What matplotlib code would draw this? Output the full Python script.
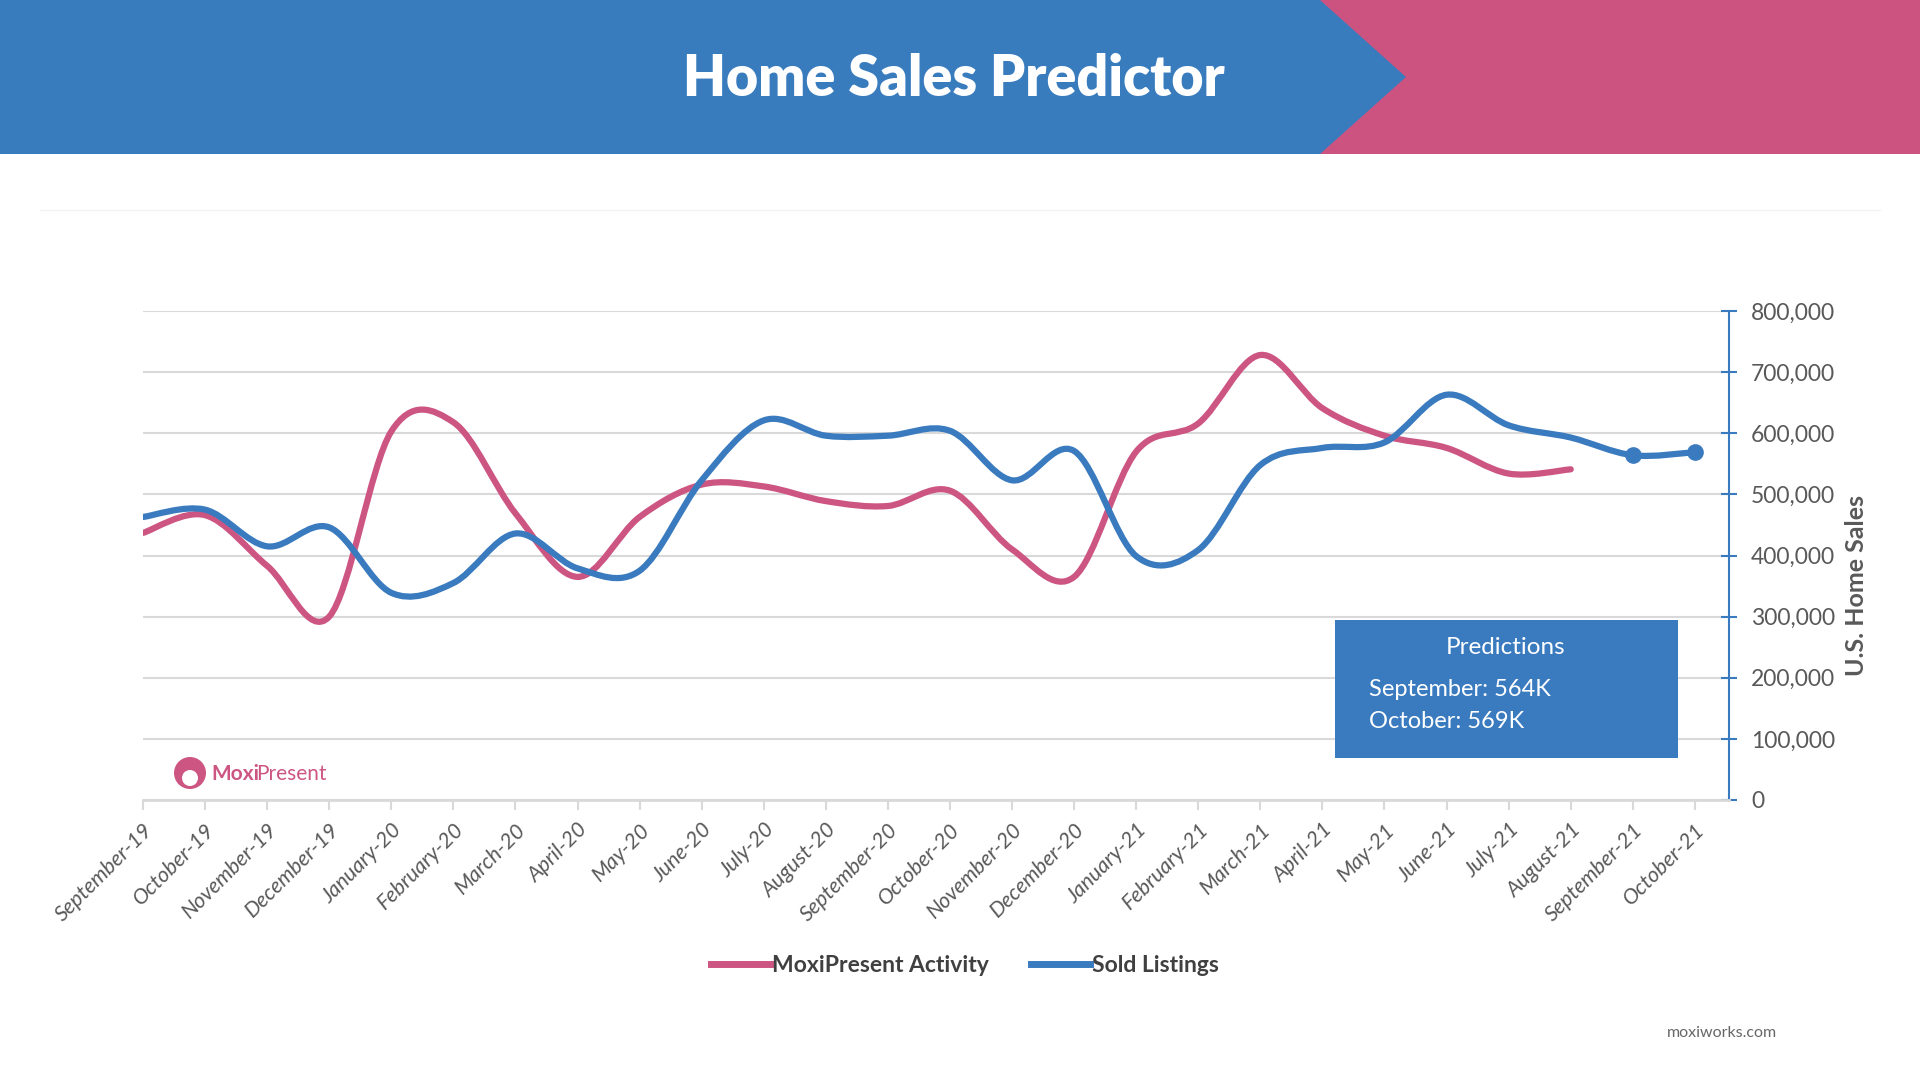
import numpy as np
import matplotlib
matplotlib.use("Agg")
import matplotlib.pyplot as plt
from matplotlib.path import Path
from matplotlib.patches import PathPatch, Polygon, Rectangle, Circle
from matplotlib.lines import Line2D
from matplotlib.ticker import FuncFormatter

plt.rcParams["font.family"] = ["Lato", "DejaVu Sans"]

# months on the x axis
months = ["September-19", "October-19", "November-19", "December-19",
          "January-20", "February-20", "March-20", "April-20", "May-20",
          "June-20", "July-20", "August-20", "September-20", "October-20",
          "November-20", "December-20", "January-21", "February-21",
          "March-21", "April-21", "May-21", "June-21", "July-21",
          "August-21", "September-21", "October-21"]

# MoxiPresent activity (ends August-21)
activity = [437000, 466000, 383000, 300000, 603000, 618000, 469000, 365000,
            463000, 516000, 513000, 489000, 481000, 506000, 410000, 365000,
            570000, 616000, 728000, 641000, 596000, 576000, 534000, 541000]

# sold listings (last two months are predictions)
sold = [463000, 475000, 415000, 446000, 339000, 355000, 436000, 379000,
        375000, 523000, 621000, 596000, 596000, 604000, 523000, 571000,
        399000, 409000, 548000, 576000, 585000, 663000, 613000, 593000,
        564000, 569000]

y_ticks = [0, 100000, 200000, 300000, 400000, 500000, 600000, 700000, 800000]

BLUE = "#3A7BBF"
PINK = "#CD5582"
GRID = "#D9D9D9"
TEXT = "#595959"


def smooth_path(xs, ys):
    # bezier path through the points, like a spreadsheet "smoothed line"
    pts = np.column_stack([xs, ys]).astype(float)
    n = len(pts)
    verts = [pts[0]]
    codes = [Path.MOVETO]
    for i in range(n - 1):
        p0 = pts[i - 1] if i > 0 else pts[i]
        p1 = pts[i]
        p2 = pts[i + 1]
        p3 = pts[i + 2] if i + 2 < n else pts[i + 1]
        c1 = p1 + (p2 - p0) / 6.0
        c2 = p2 - (p3 - p1) / 6.0
        verts += [c1, c2, p2]
        codes += [Path.CURVE4, Path.CURVE4, Path.CURVE4]
    return Path(verts, codes)


fig = plt.figure(figsize=(19.2, 10.8), dpi=100)

# header band
hdr = fig.add_axes([0, 1 - 154 / 1080, 1, 154 / 1080])
hdr.set_xlim(0, 1920)
hdr.set_ylim(154, 0)
hdr.axis("off")
hdr.add_patch(Rectangle((0, 0), 1920, 154, color="#CC5380", lw=0))
hdr.add_patch(Polygon([(0, 0), (1320, 0), (1406, 77), (1320, 154), (0, 154)],
                      closed=True, color="#397CBE", lw=0))
hdr.text(954, 79, "Home Sales Predictor", color="white", fontsize=40,
         fontweight="heavy", ha="center", va="center")

# faint separator line
fig.add_artist(Line2D([40 / 1920, 1880 / 1920], [1 - 210 / 1080, 1 - 210 / 1080],
                      color="#F3F3F3", lw=1))

ax = fig.add_axes([143 / 1920, 1 - 800 / 1080, (1729 - 143) / 1920, (800 - 311) / 1080])
x = np.arange(len(months))

ax.add_patch(PathPatch(smooth_path(x[:len(activity)], activity), fill=False,
                       edgecolor=PINK, lw=4.5, capstyle="round", joinstyle="round", zorder=3))
ax.add_patch(PathPatch(smooth_path(x, sold), fill=False,
                       edgecolor=BLUE, lw=4.5, capstyle="round", joinstyle="round", zorder=4))
ax.plot(x[-2:], sold[-2:], "o", color=BLUE, ms=11, zorder=5)

ax.set_xlim(0, 25.55)
ax.set_ylim(0, 800000)
ax.set_yticks(y_ticks)
ax.yaxis.set_major_formatter(FuncFormatter(lambda v, p: f"{int(v):,}"))
ax.yaxis.tick_right()
ax.yaxis.grid(True, color=GRID, lw=1.5)
ax.set_axisbelow(True)
for s in ["top", "left"]:
    ax.spines[s].set_visible(False)
ax.spines["right"].set_color(BLUE)
ax.spines["right"].set_linewidth(1.5)
ax.spines["bottom"].set_color(GRID)
ax.spines["bottom"].set_linewidth(2)
ax.tick_params(axis="y", direction="inout", length=12, width=1.5, color=BLUE,
               labelcolor=TEXT, labelsize=16.5, pad=10)
ax.set_xticks(x)
ax.set_xticklabels(months, rotation=45, ha="right", va="top", rotation_mode="anchor",
                   fontstyle="italic", color=TEXT, fontsize=15.5)
ax.tick_params(axis="x", direction="out", length=7, width=1.5, color=GRID, pad=7)

fig.text(1857 / 1920, 1 - 585 / 1080, "U.S. Home Sales", rotation=90, fontsize=18,
         fontweight="bold", color=TEXT, ha="center", va="center")

# legend
handles = [Line2D([], [], color=PINK, lw=5), Line2D([], [], color=BLUE, lw=5)]
fig.legend(handles, ["MoxiPresent Activity", "Sold Listings"], loc="center",
           bbox_to_anchor=(965 / 1920, 1 - 966 / 1080), ncol=2, frameon=False,
           handlelength=2.6, handletextpad=0.1, columnspacing=1.8,
           prop={"weight": "bold", "size": 16.5}, labelcolor="#404040")

# predictions box
fig.add_artist(Rectangle((1335 / 1920, 1 - 758 / 1080), (1678 - 1335) / 1920, 138 / 1080,
                         transform=fig.transFigure, color=BLUE, lw=0))
fig.text(1506 / 1920, 1 - 648 / 1080, "Predictions", color="white", fontsize=17.5,
         ha="center", va="center")
fig.text(1369 / 1920, 1 - 689 / 1080, "September: 564K", color="white", fontsize=17,
         ha="left", va="center")
fig.text(1369 / 1920, 1 - 722 / 1080, "October: 569K", color="white", fontsize=17,
         ha="left", va="center")

# MoxiPresent logo
logo = fig.add_axes([160 / 1920, 1 - 803 / 1080, 60 / 1920, 60 / 1080])
logo.set_xlim(0, 60)
logo.set_ylim(60, 0)
logo.set_aspect("equal")
logo.axis("off")
logo.add_patch(Circle((30, 30), 16, color=PINK, lw=0))
logo.add_patch(Circle((30, 35), 8, color="white", lw=0))
fig.text(211 / 1920, 1 - 774 / 1080, "Moxi", color=PINK, fontsize=15,
         fontweight="bold", ha="left", va="center")
fig.text(256 / 1920, 1 - 774 / 1080, "Present", color=PINK, fontsize=15,
         ha="left", va="center")

fig.text(1722 / 1920, 1 - 1033 / 1080, "moxiworks.com", color="#666666", fontsize=11.5,
         ha="center", va="center")

fig.savefig("out.png", dpi=100)
